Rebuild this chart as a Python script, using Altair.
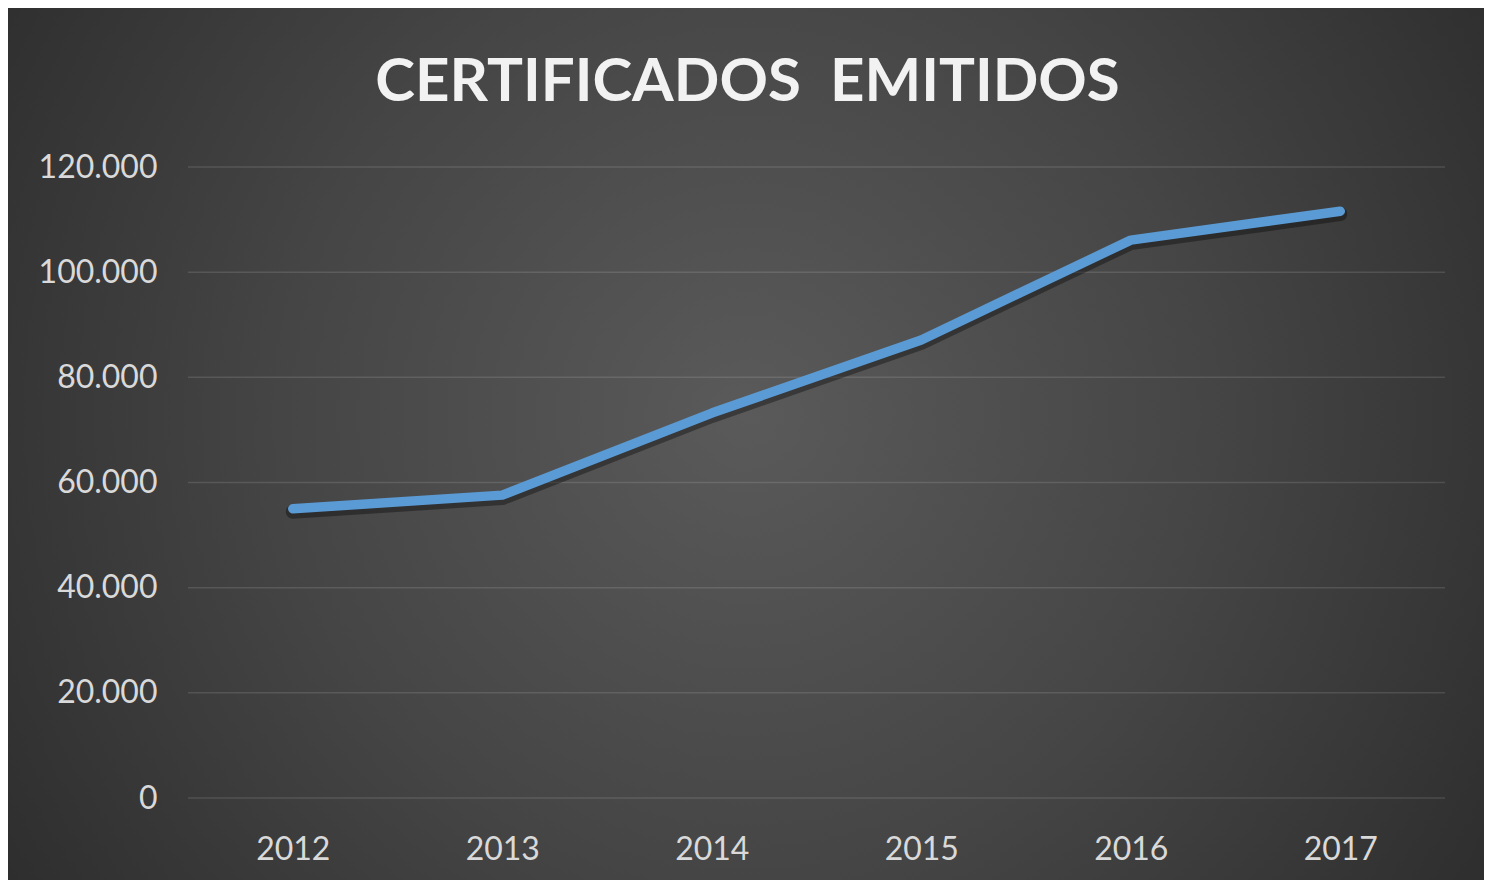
import altair as alt
import pandas as pd

years = ["2012", "2013", "2014", "2015", "2016", "2017"]
certificados = [55000, 57600, 73200, 87100, 106100, 111600]
y_ticks = [0, 20000, 40000, 60000, 80000, 100000, 120000]
title_text = "CERTIFICADOS\u00a0\u00a0EMITIDOS"

df = pd.DataFrame({"year": years, "value": certificados})
grid_df = pd.DataFrame({"value": y_ticks})

W, H = 1257, 631
PAD = {"left": 180, "top": 159, "right": 39, "bottom": 82}

y_scale = alt.Scale(domain=[0, 120000], nice=False, zero=True)
y_axis = alt.Axis(values=y_ticks, ticks=False, domain=False, labelPadding=31,
                  labelExpr="replace(format(datum.value, ','), ',', '.')",
                  grid=False, zindex=1)

bg = alt.Chart(alt.Data(values=[{}])).mark_rect(
    color=alt.Gradient(
        gradient="radial",
        stops=[alt.GradientStop(color="#5a5a5a", offset=0),
               alt.GradientStop(color="#454545", offset=0.45),
               alt.GradientStop(color="#252525", offset=1)],
        x1=0.5, y1=0.48, x2=0.5, y2=0.48, r1=0, r2=0.7,
    )
).encode(
    x=alt.value(-PAD["left"]), x2=alt.value(W + PAD["right"]),
    y=alt.value(-PAD["top"]), y2=alt.value(H + PAD["bottom"]),
)

grid = alt.Chart(grid_df).mark_rule(color="#ffffff", opacity=0.12, strokeWidth=1.5).encode(
    y=alt.Y("value:Q", scale=y_scale, axis=y_axis, title=None),
    x=alt.value(0), x2=alt.value(W),
)

base = alt.Chart(df).encode(
    x=alt.X("year:O", sort=years, title=None,
            scale=alt.Scale(type="point", padding=0.5),
            axis=alt.Axis(labelAngle=0, labelPadding=36, ticks=False, domain=False,
                          grid=False, zindex=1)),
    y=alt.Y("value:Q", title=None, scale=y_scale, axis=y_axis),
)

shadow = base.mark_line(color="#000000", opacity=0.35, strokeWidth=14,
                        strokeCap="round", strokeJoin="round", yOffset=3)
line = base.mark_line(color="#5b9bd5", strokeWidth=9.5, strokeCap="round",
                      strokeJoin="round")

chart = alt.layer(bg, grid, shadow, line).properties(
    width=W, height=H,
    padding=PAD,
    autosize=alt.AutoSizeParams(type="none"),
    background="#2a2a2a",
    title=alt.TitleParams(
        text=title_text, font="Lato", fontSize=60, fontWeight="bold",
        color="#f2f2f2", anchor="middle", dx=-69, offset=-106, zindex=2,
    ),
).configure_view(stroke=None).configure_axis(
    labelFont="Lato", labelFontSize=32, labelColor="#d9d9d9",
)

chart.save("out.html", embed_options={"renderer": "svg", "actions": False})
